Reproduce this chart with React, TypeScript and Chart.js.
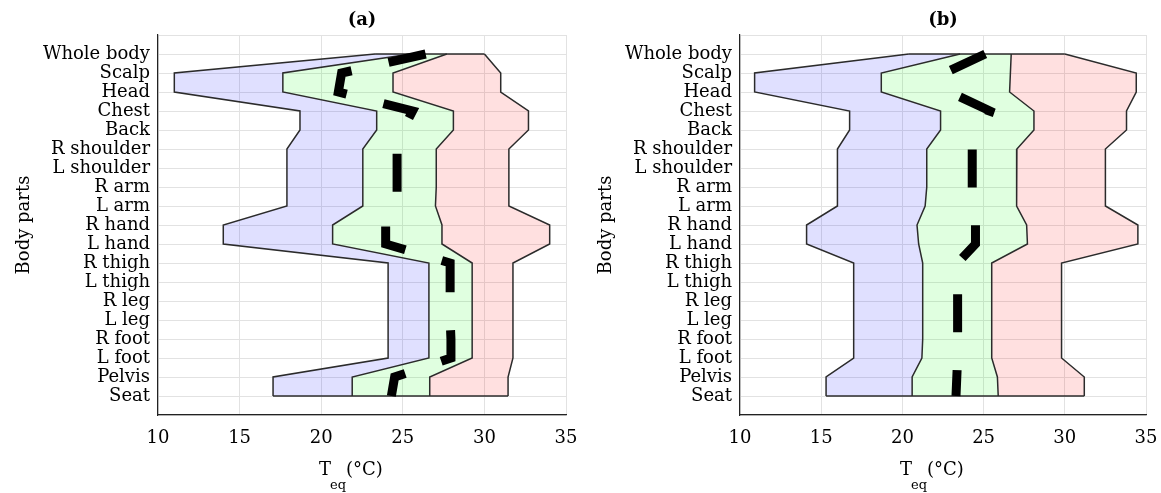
import React, { useEffect, useRef } from "react";
import { Chart, registerables } from "chart.js";

Chart.register(...registerables);

// ---- data ----
const bodyParts = [
  "Whole body", "Scalp", "Head", "Chest", "Back", "R shoulder", "L shoulder",
  "R arm", "L arm", "R hand", "L hand", "R thigh", "L thigh", "R leg", "L leg",
  "R foot", "L foot", "Pelvis", "Seat",
];
const xTicks = [10, 15, 20, 25, 30, 35];

// panel (a)
const aBlueLeft = [23.3, 11.0, 11.0, 18.7, 18.7, 17.9, 17.9, 17.9, 17.9, 14.0, 14.0, 24.1, 24.1, 24.1, 24.1, 24.1, 24.1, 17.05, 17.05];
const aGreenLeft = [25.5, 17.65, 17.65, 23.4, 23.4, 22.55, 22.55, 22.55, 22.55, 20.7, 20.7, 26.6, 26.6, 26.6, 26.6, 26.6, 26.6, 21.9, 21.9];
const aPinkLeft = [27.7, 24.4, 24.4, 28.1, 28.1, 27.05, 27.05, 27.05, 27.0, 27.4, 27.4, 29.25, 29.25, 29.25, 29.25, 29.25, 29.25, 26.65, 26.65];
const aPinkRight = [30.0, 31.0, 31.0, 32.7, 32.7, 31.5, 31.5, 31.5, 31.5, 34.0, 34.0, 31.75, 31.75, 31.75, 31.75, 31.75, 31.75, 31.45, 31.45];
const aMedian = [26.4, 21.25, 21.05, 25.6, 25.0, 24.65, 24.65, 24.65, 24.65, 23.95, 23.95, 27.9, 27.9, 27.9, 27.9, 27.95, 27.95, 24.5, 24.3];

// panel (b)
const bBlueLeft = [20.4, 10.9, 10.9, 16.75, 16.75, 16.0, 16.0, 16.0, 16.0, 14.1, 14.1, 17.0, 17.0, 17.0, 17.0, 17.0, 17.0, 15.3, 15.3];
const bGreenLeft = [23.55, 18.7, 18.7, 22.35, 22.35, 21.5, 21.5, 21.5, 21.4, 20.9, 21.0, 21.25, 21.25, 21.25, 21.25, 21.25, 21.2, 20.6, 20.6];
const bPinkLeft = [26.7, 26.65, 26.6, 28.1, 28.1, 27.05, 27.05, 27.05, 27.0, 27.65, 27.7, 25.5, 25.5, 25.5, 25.5, 25.5, 25.5, 25.85, 25.9];
const bPinkRight = [30.0, 34.4, 34.4, 33.8, 33.8, 32.5, 32.5, 32.5, 32.5, 34.5, 34.5, 29.8, 29.8, 29.8, 29.8, 29.8, 29.8, 31.2, 31.2];
const bMedian = [25.1, 22.6, 22.9, 25.4, 25.0, 24.3, 24.3, 24.3, 24.3, 24.5, 24.5, 23.4, 23.4, 23.4, 23.4, 23.4, 23.4, 23.35, 23.3];

const FONT = "'DejaVu Serif', serif";
const EDGE = "#2b2b2b";

const toPts = (arr: number[]) => arr.map((x, i) => ({ x, y: i }));

const xTitlePlugin = {
  id: "xTitleSub",
  afterDraw(chart: any) {
    const { ctx, chartArea } = chart;
    const cx = (chartArea.left + chartArea.right) / 2;
    const x0 = cx - 43;
    const base = chartArea.bottom + 60;
    ctx.save();
    ctx.fillStyle = "#000";
    ctx.textAlign = "left";
    ctx.textBaseline = "alphabetic";
    ctx.font = `18px ${FONT}`;
    ctx.fillText("T", x0, base);
    const wT = ctx.measureText("T").width;
    ctx.font = `13px ${FONT}`;
    ctx.fillText("eq", x0 + wT - 1, base + 14);
    ctx.font = `18px ${FONT}`;
    ctx.fillText("(°C)", cx - 16, base);
    ctx.restore();
  },
};

type PanelProps = {
  title: string;
  left: number;
  width: number;
  axisWidth: number;
  padRight: number;
  yTitlePad: number;
  blue: number[];
  green: number[];
  pinkL: number[];
  pinkR: number[];
  median: number[];
};

function Panel(p: PanelProps) {
  const ref = useRef<HTMLCanvasElement | null>(null);
  useEffect(() => {
    if (!ref.current) return;
    const last = bodyParts.length - 1;
    const chart = new Chart(ref.current, {
      type: "line",
      data: {
        datasets: [
          {
            label: "median",
            data: toPts(p.median),
            borderColor: "#000",
            borderWidth: 9,
            borderDash: [38, 38],
            borderCapStyle: "butt",
            borderJoinStyle: "miter",
            pointRadius: 0,
            fill: false,
            tension: 0,
          },
          {
            label: "blueLeft",
            data: toPts(p.blue),
            borderColor: EDGE,
            borderWidth: 1.5,
            pointRadius: 0,
            fill: false,
            tension: 0,
          },
          {
            label: "greenLeft",
            data: toPts(p.green),
            borderColor: EDGE,
            borderWidth: 1.5,
            backgroundColor: "rgba(0,0,255,0.12)",
            pointRadius: 0,
            fill: 1,
            tension: 0,
          },
          {
            label: "pinkLeft",
            data: toPts(p.pinkL),
            borderColor: EDGE,
            borderWidth: 1.5,
            backgroundColor: "rgba(0,255,0,0.12)",
            pointRadius: 0,
            fill: 2,
            tension: 0,
          },
          {
            label: "pinkRight",
            data: toPts(p.pinkR),
            borderColor: EDGE,
            borderWidth: 1.5,
            backgroundColor: "rgba(255,0,0,0.12)",
            pointRadius: 0,
            fill: 3,
            tension: 0,
          },
          {
            label: "topEdge",
            data: [{ x: p.blue[0], y: 0 }, { x: p.pinkR[0], y: 0 }],
            borderColor: EDGE,
            borderWidth: 1.5,
            pointRadius: 0,
            fill: false,
          },
          {
            label: "bottomEdge",
            data: [{ x: p.blue[last], y: last }, { x: p.pinkR[last], y: last }],
            borderColor: EDGE,
            borderWidth: 1.5,
            pointRadius: 0,
            fill: false,
          },
        ] as any,
      },
      options: {
        animation: false,
        responsive: false,
        indexAxis: "y",
        events: [],
        layout: { padding: { left: 0, right: p.padRight, top: 0, bottom: 0 } },
        plugins: {
          legend: { display: false },
          tooltip: { enabled: false },
          filler: { drawTime: "beforeDatasetsDraw" } as any,
          title: {
            display: true,
            text: p.title,
            fullSize: false,
            color: "#000",
            font: { family: FONT, size: 18, weight: "bold" },
            padding: { top: 10, bottom: 3.4 },
          },
        },
        scales: {
          x: {
            type: "linear",
            min: 10,
            max: 35,
            afterBuildTicks: (s: any) => {
              s.ticks = xTicks.map((v) => ({ value: v }));
            },
            afterFit: (s: any) => {
              s.height = 78;
              s.paddingLeft = 0;
              s.paddingRight = 0;
            },
            ticks: {
              color: "#000",
              font: { family: FONT, size: 18 },
              padding: 13,
            },
            grid: { color: "#e2e2e2", drawTicks: false, lineWidth: 1 },
            border: { color: "#222", width: 1.2 },
          },
          y: {
            type: "linear",
            reverse: true,
            min: -1,
            max: bodyParts.length,
            afterBuildTicks: (s: any) => {
              const t = [];
              for (let i = -1; i <= bodyParts.length; i++) t.push({ value: i });
              s.ticks = t;
            },
            afterFit: (s: any) => {
              s.width = p.axisWidth;
              s.paddingTop = 0;
              s.paddingBottom = 0;
            },
            ticks: {
              color: "#000",
              autoSkip: false,
              font: { family: FONT, size: 18 },
              padding: 8,
              callback: (v: any) => bodyParts[v as number] ?? "",
            },
            title: {
              display: true,
              text: "Body parts",
              color: "#000",
              font: { family: FONT, size: 18 },
              padding: { top: p.yTitlePad, bottom: 0 },
            },
            grid: { color: "#e2e2e2", drawTicks: false, lineWidth: 1 },
            border: { color: "#222", width: 1.2 },
          },
        },
      },
      plugins: [xTitlePlugin],
    });
    return () => chart.destroy();
  }, []);
  return (
    <canvas
      ref={ref}
      width={p.width}
      height={493}
      style={{ position: "absolute", left: p.left, top: 0, width: p.width, height: 493, display: "block" }}
    />
  );
}

export default function App() {
  return (
    <div style={{ position: "absolute", left: 0, top: 0, width: 1161, height: 493, background: "#fff", overflow: "hidden" }}>
      <Panel title="(a)" left={0} width={580} axisWidth={158} padRight={14} yTitlePad={14}
        blue={aBlueLeft} green={aGreenLeft} pinkL={aPinkLeft} pinkR={aPinkRight} median={aMedian} />
      <Panel title="(b)" left={580} width={581} axisWidth={160} padRight={15} yTitlePad={16}
        blue={bBlueLeft} green={bGreenLeft} pinkL={bPinkLeft} pinkR={bPinkRight} median={bMedian} />
    </div>
  );
}
